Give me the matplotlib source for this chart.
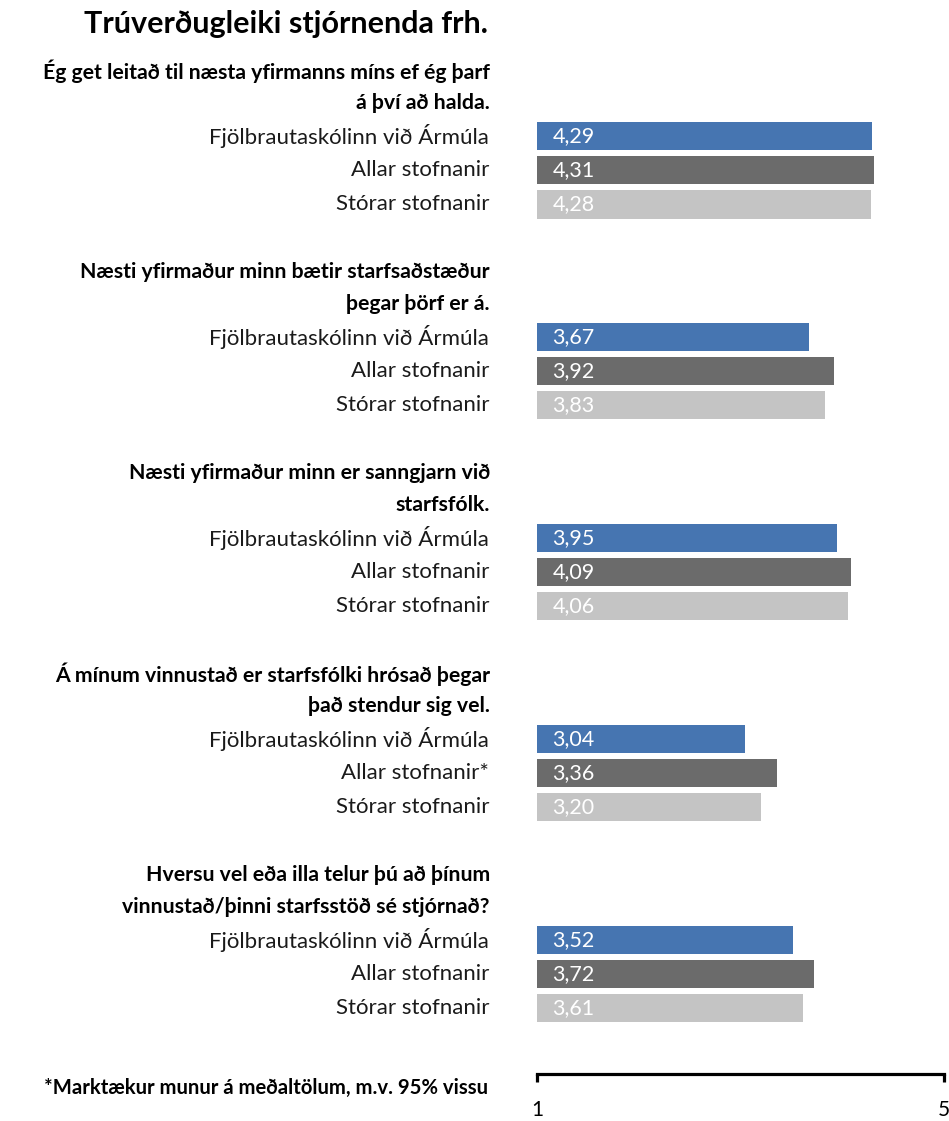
import matplotlib
matplotlib.use('Agg')
import matplotlib.pyplot as plt
from matplotlib.transforms import blended_transform_factory

plt.rcParams['font.family'] = ['Lato', 'DejaVu Sans']

# data
questions = [
    'Ég get leitað til næsta yfirmanns míns ef ég þarf\ná því að halda.',
    'Næsti yfirmaður minn bætir starfsaðstæður\nþegar þörf er á.',
    'Næsti yfirmaður minn er sanngjarn við\nstarfsfólk.',
    'Á mínum vinnustað er starfsfólki hrósað þegar\nþað stendur sig vel.',
    'Hversu vel eða illa telur þú að þínum\nvinnustað/þinni starfsstöð sé stjórnað?',
]
group_labels = [
    ['Fjölbrautaskólinn við Ármúla', 'Allar stofnanir', 'Stórar stofnanir'],
    ['Fjölbrautaskólinn við Ármúla', 'Allar stofnanir', 'Stórar stofnanir'],
    ['Fjölbrautaskólinn við Ármúla', 'Allar stofnanir', 'Stórar stofnanir'],
    ['Fjölbrautaskólinn við Ármúla', 'Allar stofnanir*', 'Stórar stofnanir'],
    ['Fjölbrautaskólinn við Ármúla', 'Allar stofnanir', 'Stórar stofnanir'],
]
skolinn = [4.29, 3.67, 3.95, 3.04, 3.52]
allar = [4.31, 3.92, 4.09, 3.36, 3.72]
storar = [4.28, 3.83, 4.06, 3.20, 3.61]

colors = ['#4675b1', '#6b6b6b', '#c4c4c4']
W, H = 949, 1121

fig = plt.figure(figsize=(W / 100, H / 100), dpi=100)
ax = fig.add_axes([537 / W, 47 / H, (944 - 537) / W, 1074 / H])

group_step = 5.91
label_tr = blended_transform_factory(fig.transFigure, ax.transData)

for g in range(len(questions)):
    base = g * group_step
    vals = [skolinn[g], allar[g], storar[g]]
    for j in range(3):
        y = base + j
        ax.barh(y, vals[j] - 1, left=1, height=0.85, color=colors[j], edgecolor='none')
        ax.text(1.15, y, '{:.2f}'.format(vals[j]).replace('.', ','), color='white',
                va='center', ha='left', fontsize=15.5)
        ax.text(489 / W, y, group_labels[g][j], transform=label_tr, ha='right', va='center',
                fontsize=16, color='#1a1a1a', clip_on=False)
    lines = questions[g].split('\n')
    for k, line in enumerate(lines):
        ax.text(490 / W, base - 1.9 + 0.92 * k, line, transform=label_tr, ha='right',
                va='center', fontsize=15.3, fontweight='bold', clip_on=False)

fig.text(488 / W, 1 - 33 / H, 'Trúverðugleiki stjórnenda frh.', ha='right', va='baseline',
         fontsize=22, fontweight='bold')
fig.text(488 / W, 1 - 1088 / H, '*Marktækur munur á meðaltölum, m.v. 95% vissu', ha='right',
         va='center', fontsize=14.6, fontweight='bold')

ax.set_xlim(1, 5)
ax.set_ylim(27.58, -4.0)
ax.set_xticks([1, 5])
ax.set_xticklabels(['1', '5'])
ax.set_yticks([])
for s in ['top', 'left', 'right']:
    ax.spines[s].set_visible(False)
ax.spines['bottom'].set_linewidth(2.3)
ax.tick_params(axis='x', length=6, width=2.3, direction='out', pad=13, labelsize=15)
ax.patch.set_alpha(0)

fig.savefig('out.png', dpi=100)
